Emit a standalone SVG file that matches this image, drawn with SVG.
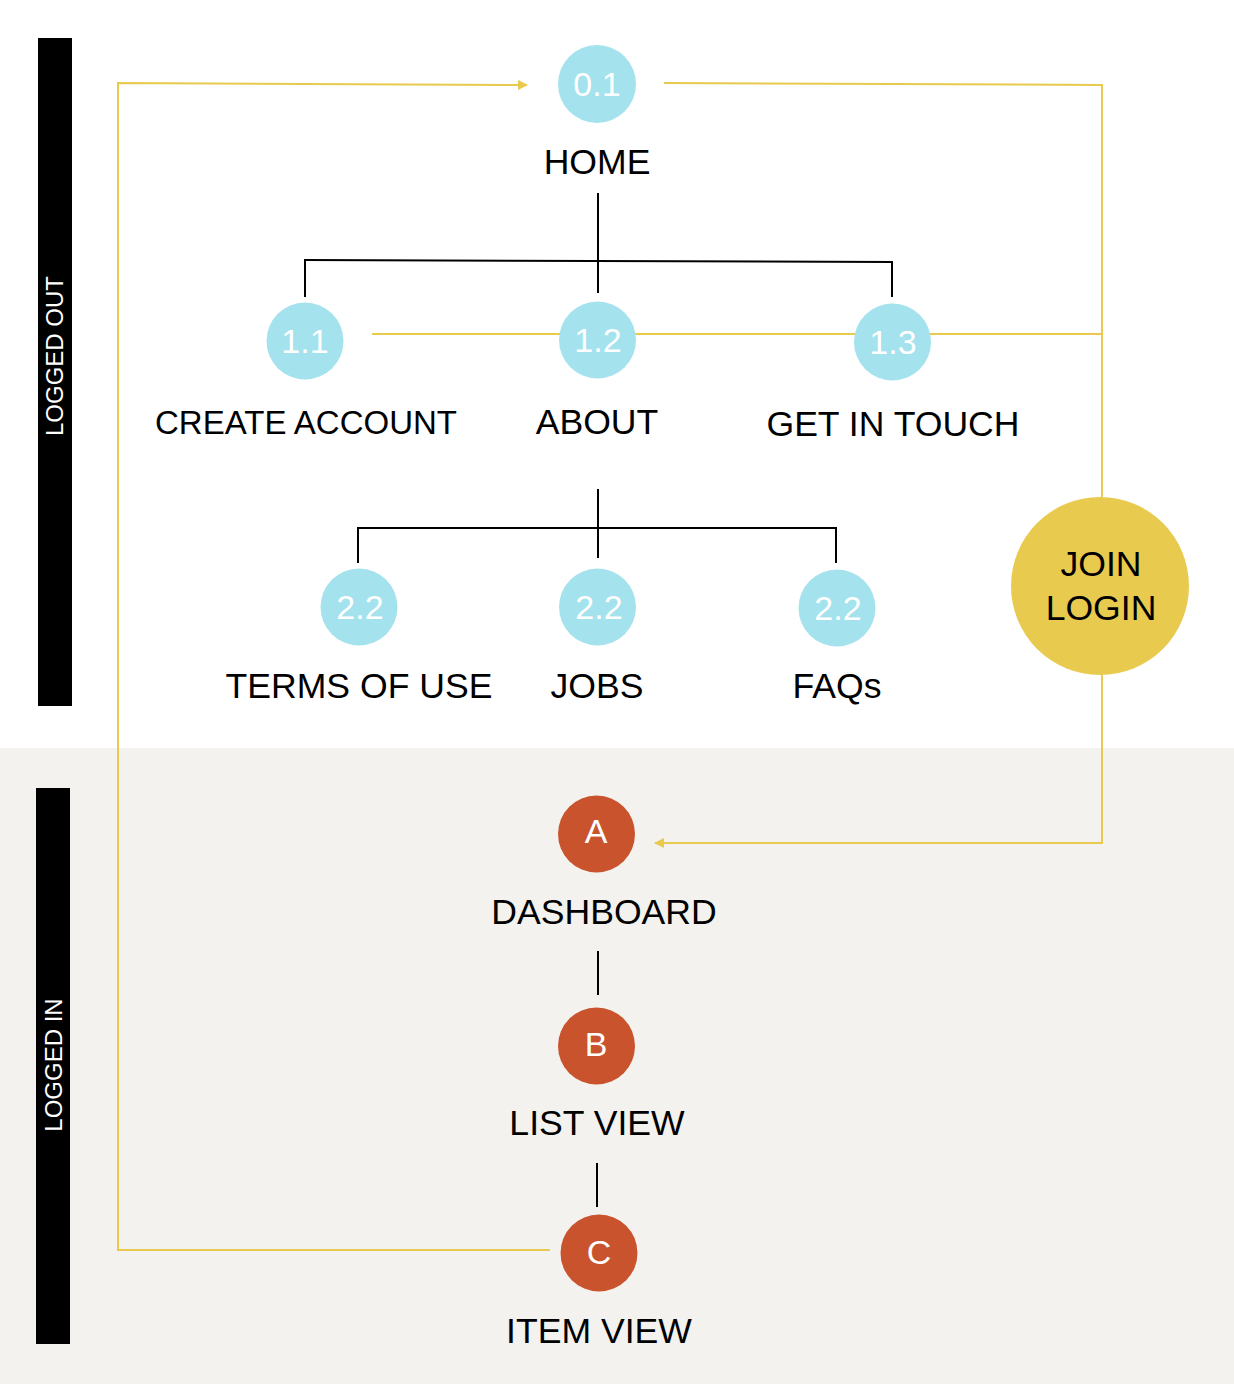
<svg xmlns="http://www.w3.org/2000/svg" width="1234" height="1384" viewBox="0 0 1234 1384">
<style>
.lbl{font-family:"Liberation Sans",Arial,sans-serif;font-size:35.6px;fill:#000;text-anchor:middle}
.num{font-family:"Liberation Sans",Arial,sans-serif;font-size:34px;fill:#fff;text-anchor:middle}
.let{font-family:"Liberation Sans",Arial,sans-serif;font-size:34px;fill:#fff;text-anchor:middle}
.side{font-family:"Liberation Sans",Arial,sans-serif;font-size:24px;fill:#fff;text-anchor:middle}
.blue{fill:#a4e2ee}
.red{fill:#c9532d}
.tree{stroke:#000;stroke-width:2;fill:none}
.flow{stroke:#e8ca4e;stroke-width:2;fill:none}
</style>
<defs>
<marker id="arr" viewBox="0 0 10 10" refX="9" refY="5" markerWidth="10" markerHeight="10" markerUnits="userSpaceOnUse" orient="auto">
<path d="M0,0 L10,5 L0,10 z" fill="#e8ca4e"/>
</marker>
</defs>
<rect x="0" y="0" width="1234" height="748" fill="#fff"/>
<rect x="0" y="748" width="1234" height="636" fill="#f3f2ee"/>
<g id="band-logged-out">
<rect x="38" y="38" width="34" height="668" fill="#000"/>
<text class="side" transform="translate(63,356) rotate(-90)">LOGGED OUT</text>
</g>
<g id="band-logged-in">
<rect x="36" y="788" width="34" height="556" fill="#000"/>
<text class="side" transform="translate(62,1065) rotate(-90)">LOGGED IN</text>
</g>
<g id="connectors">
<path class="tree" d="M598,193 V293"/>
<path class="tree" d="M304,260 L893,262"/>
<path class="tree" d="M305,260 V297 M892,262 V297"/>
<path class="tree" d="M598,489 V558"/>
<path class="tree" d="M358,563 V528 H836 V563"/>
<path class="tree" d="M598,951 V995"/>
<path class="tree" d="M597,1163 V1207"/>
<path class="flow" d="M550,1250 H118 V83 L527,85" marker-end="url(#arr)"/>
<path class="flow" d="M664,83 L1102,85 V497"/>
<path class="flow" d="M372,334 H1102"/>
<path class="flow" d="M1102,675 V843 H655" marker-end="url(#arr)"/>
</g>
<g id="node-home">
<circle class="blue" cx="597" cy="84" r="39"/>
<text class="num" x="597" y="96">0.1</text>
<text class="lbl" x="597" y="174">HOME</text>
</g>
<g id="node-create-account">
<circle class="blue" cx="305" cy="341" r="38.5"/>
<text class="num" x="305" y="353">1.1</text>
<text class="lbl" x="306" y="434" style="font-size:33px">CREATE ACCOUNT</text>
</g>
<g id="node-about">
<circle class="blue" cx="597.5" cy="340" r="38.5"/>
<text class="num" x="598" y="352">1.2</text>
<text class="lbl" x="597" y="434">ABOUT</text>
</g>
<g id="node-get-in-touch">
<circle class="blue" cx="892.5" cy="342" r="38.5"/>
<text class="num" x="893" y="354">1.3</text>
<text class="lbl" x="893" y="436">GET IN TOUCH</text>
</g>
<g id="node-terms">
<circle class="blue" cx="359" cy="607" r="38.5"/>
<text class="num" x="360" y="619">2.2</text>
<text class="lbl" x="359" y="698">TERMS OF USE</text>
</g>
<g id="node-jobs">
<circle class="blue" cx="597.5" cy="607" r="38.5"/>
<text class="num" x="599" y="619">2.2</text>
<text class="lbl" x="597" y="698">JOBS</text>
</g>
<g id="node-faqs">
<circle class="blue" cx="837" cy="608" r="38.5"/>
<text class="num" x="838" y="620">2.2</text>
<text class="lbl" x="837" y="698">FAQs</text>
</g>
<g id="node-join-login">
<circle cx="1100" cy="586" r="89" fill="#e8ca4e"/>
<text class="lbl" x="1101" y="576">JOIN</text>
<text class="lbl" x="1101" y="620">LOGIN</text>
</g>
<g id="node-dashboard">
<circle class="red" cx="596.5" cy="834" r="38.5"/>
<text class="let" x="596" y="843">A</text>
<text class="lbl" x="604" y="924">DASHBOARD</text>
</g>
<g id="node-list-view">
<circle class="red" cx="596.5" cy="1046" r="38.5"/>
<text class="let" x="596" y="1056">B</text>
<text class="lbl" x="597" y="1135">LIST VIEW</text>
</g>
<g id="node-item-view">
<circle class="red" cx="599" cy="1253" r="38.5"/>
<text class="let" x="599" y="1264">C</text>
<text class="lbl" x="599" y="1343">ITEM VIEW</text>
</g>
</svg>
